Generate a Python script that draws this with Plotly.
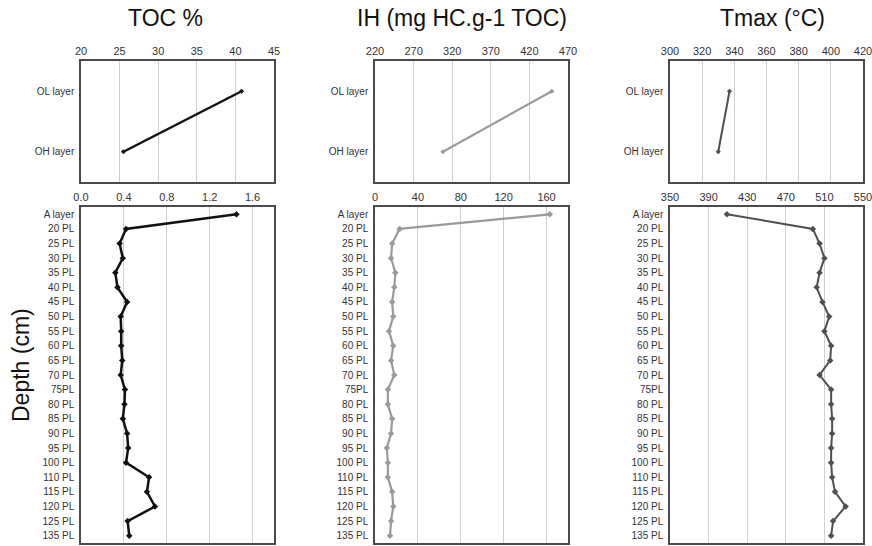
import plotly.graph_objects as go

# ---------------- data ----------------
top_layers = ["OL layer", "OH layer"]
toc_top = [40.8, 25.5]
ih_top = [449, 308]
tmax_top = [337, 330]

depths = ["A layer", "20 PL", "25 PL", "30 PL", "35 PL", "40 PL", "45 PL", "50 PL",
          "55 PL", "60 PL", "65 PL", "70 PL", "75PL", "80 PL", "85 PL", "90 PL",
          "95 PL", "100 PL", "110 PL", "115 PL", "120 PL", "125 PL", "135 PL"]
toc_depth = [1.45, 0.42, 0.36, 0.39, 0.32, 0.34, 0.43, 0.37, 0.375, 0.375, 0.385,
             0.37, 0.41, 0.405, 0.39, 0.43, 0.44, 0.42, 0.635, 0.615, 0.69, 0.435, 0.45]
ih_depth = [163, 23, 16, 15, 19, 18, 16, 17, 13, 17, 15, 18, 12, 12, 16, 15, 11,
            12, 12, 16, 17, 15, 14]
tmax_depth = [409, 498, 505, 510, 505, 502, 508, 515, 510, 517, 516, 505, 517, 517,
              518, 518, 517, 517, 518, 521, 532, 519, 517]

titles = ["TOC %", "IH (mg HC.g-1 TOC)", "Tmax (°C)"]
depth_title = "Depth (cm)"

# ---------------- layout geometry ----------------
W, H = 872, 546
col_px = [(81, 274), (375, 568), (670, 863)]
top_px = (61, 182)
bot_px = (207, 543)

def xdom(c):
    return [c[0] / W, c[1] / W]

def ydom(p):
    return [1 - p[1] / H, 1 - p[0] / H]

FONT = "Liberation Sans, Arial, sans-serif"
BOX = "#4a4a4a"
GRID = "#d0d0d0"
TICKC = "#333333"

fig = go.Figure()

series = [
    (toc_top, toc_depth, "#111111", 2.5, [20, 45, 5, None], [0, 1.8, 0.4, ".1f"]),
    (ih_top, ih_depth, "#9a9a9a", 2.2, [220, 470, 50, None], [0, 180, 40, None]),
    (tmax_top, tmax_depth, "#505050", 2.0, [300, 420, 20, None], [350, 550, 40, None]),
]

layout_axes = {}
for i, (top_vals, bot_vals, color, lw, trng, brng) in enumerate(series):
    tx = 2 * i + 1
    bx = 2 * i + 2
    txn = "x" if tx == 1 else f"x{tx}"
    tyn = "y" if tx == 1 else f"y{tx}"
    bxn = f"x{bx}"
    byn = f"y{bx}"
    fig.add_trace(go.Scatter(
        x=top_vals, y=top_layers, mode="lines+markers",
        line=dict(color=color, width=lw),
        marker=dict(symbol="diamond", size=4, color=color),
        xaxis=txn, yaxis=tyn, showlegend=False, cliponaxis=False))
    fig.add_trace(go.Scatter(
        x=bot_vals, y=depths, mode="lines+markers",
        line=dict(color=color, width=lw),
        marker=dict(symbol="diamond", size=5, color=color),
        xaxis=bxn, yaxis=byn, showlegend=False, cliponaxis=False))

    common_x = dict(side="top", showgrid=True, gridcolor=GRID, gridwidth=1,
                    showline=True, linecolor=BOX, linewidth=1.5, mirror=True,
                    zeroline=False, ticks="", automargin=False,
                    ticklabeloverflow="allow",
                    tickfont=dict(family=FONT, size=11, color=TICKC))
    common_y = dict(type="category", showgrid=False, showline=True, linecolor=BOX,
                    linewidth=1.5, mirror=True, zeroline=False, ticks="",
                    ticklabelstandoff=3, automargin=False,
                    tickfont=dict(family=FONT, size=10, color=TICKC))

    ax_t = dict(common_x, domain=xdom(col_px[i]), anchor=tyn,
                range=[trng[0], trng[1]], dtick=trng[2], tick0=trng[0])
    ax_b = dict(common_x, domain=xdom(col_px[i]), anchor=byn,
                range=[brng[0], brng[1]], dtick=brng[2], tick0=brng[0])
    if brng[3]:
        ax_b["tickformat"] = brng[3]
    ay_t = dict(common_y, domain=ydom(top_px), anchor=txn,
                range=[1.5, -0.5], categoryorder="array", categoryarray=top_layers)
    ay_b = dict(common_y, domain=ydom(bot_px), anchor=bxn,
                range=[len(depths) - 0.5, -0.5], categoryorder="array", categoryarray=depths)

    layout_axes["xaxis" if tx == 1 else f"xaxis{tx}"] = ax_t
    layout_axes["yaxis" if tx == 1 else f"yaxis{tx}"] = ay_t
    layout_axes[f"xaxis{bx}"] = ax_b
    layout_axes[f"yaxis{bx}"] = ay_b

fig.update_layout(**layout_axes)

# titles
title_x = [165, 462, 772]
for t, xp in zip(titles, title_x):
    fig.add_annotation(text=t, x=xp / W, y=1 - 18 / H, xref="paper", yref="paper",
                       showarrow=False, xanchor="center", yanchor="middle",
                       font=dict(family=FONT, size=23, color="#111111"))
fig.add_annotation(text=depth_title, x=21 / W, y=1 - 365 / H, xref="paper", yref="paper",
                   showarrow=False, textangle=-90, xanchor="center", yanchor="middle",
                   font=dict(family=FONT, size=23, color="#111111"))

fig.update_layout(width=W, height=H, margin=dict(l=0, r=0, t=0, b=0),
                  paper_bgcolor="white", plot_bgcolor="white",
                  font=dict(family=FONT))

fig.write_html("out.html", config={"displayModeBar": False},
               post_script="document.body.style.margin='0';document.body.style.overflow='hidden';")
